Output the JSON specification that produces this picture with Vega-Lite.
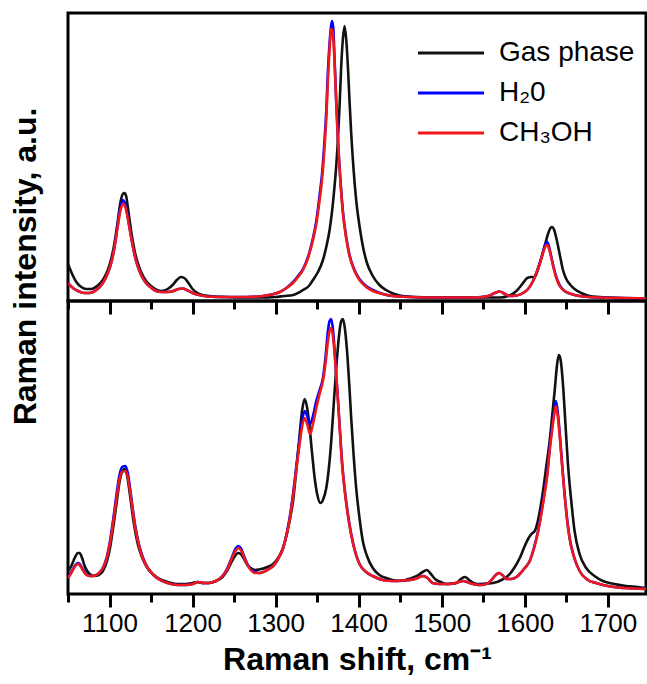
{
"$schema": "https://vega.github.io/schema/vega-lite/v6.json",
"autosize": {"type": "pad"},
"padding": {"left": 7, "top": 11, "right": 0, "bottom": 0},
"background": "white",
"spacing": 0,
"bounds": "flush",
"resolve": {"scale": {"y": "independent"}},
"config": {"view": {"stroke": "black", "strokeWidth": 3}, "font": "Liberation Sans", "axis": {"grid": false}},
"datasets": {
"top": [
{"x":1050,"y":37,"s":"g"},{"x":1055,"y":27,"s":"g"},{"x":1060,"y":19,"s":"g"},{"x":1066,"y":14,"s":"g"},{"x":1072,"y":12,"s":"g"},{"x":1078,"y":12,"s":"g"},{"x":1085,"y":15,"s":"g"},{"x":1092,"y":21,"s":"g"},{"x":1098,"y":31,"s":"g"},{"x":1102,"y":42,"s":"g"},{"x":1106,"y":58,"s":"g"},{"x":1110,"y":80,"s":"g"},{"x":1113,"y":98,"s":"g"},{"x":1116,"y":107,"s":"g"},{"x":1118,"y":108,"s":"g"},{"x":1120,"y":105,"s":"g"},{"x":1123,"y":88,"s":"g"},{"x":1126,"y":70,"s":"g"},{"x":1130,"y":51,"s":"g"},{"x":1134,"y":38,"s":"g"},{"x":1138,"y":29,"s":"g"},{"x":1144,"y":20,"s":"g"},{"x":1150,"y":15,"s":"g"},{"x":1157,"y":11,"s":"g"},{"x":1163,"y":10,"s":"g"},{"x":1170,"y":12,"s":"g"},{"x":1176,"y":16,"s":"g"},{"x":1181,"y":21,"s":"g"},{"x":1186,"y":24,"s":"g"},{"x":1190,"y":23,"s":"g"},{"x":1195,"y":18,"s":"g"},{"x":1200,"y":12,"s":"g"},{"x":1206,"y":8,"s":"g"},{"x":1212,"y":6,"s":"g"},{"x":1220,"y":5,"s":"g"},{"x":1240,"y":4,"s":"g"},{"x":1260,"y":3.5,"s":"g"},{"x":1280,"y":3.5,"s":"g"},{"x":1300,"y":4,"s":"g"},{"x":1310,"y":5,"s":"g"},{"x":1321,"y":6,"s":"g"},{"x":1333,"y":11,"s":"g"},{"x":1340,"y":15,"s":"g"},{"x":1345,"y":21,"s":"g"},{"x":1351,"y":29,"s":"g"},{"x":1357,"y":41,"s":"g"},{"x":1361,"y":54,"s":"g"},{"x":1365,"y":71,"s":"g"},{"x":1368,"y":90,"s":"g"},{"x":1371,"y":115,"s":"g"},{"x":1373,"y":135,"s":"g"},{"x":1375,"y":161,"s":"g"},{"x":1377,"y":195,"s":"g"},{"x":1379,"y":235,"s":"g"},{"x":1381,"y":262,"s":"g"},{"x":1383,"y":275,"s":"g"},{"x":1385,"y":262,"s":"g"},{"x":1387,"y":235,"s":"g"},{"x":1389,"y":200,"s":"g"},{"x":1391,"y":168,"s":"g"},{"x":1394,"y":130,"s":"g"},{"x":1397,"y":101,"s":"g"},{"x":1401,"y":75,"s":"g"},{"x":1405,"y":55,"s":"g"},{"x":1410,"y":38,"s":"g"},{"x":1417,"y":25,"s":"g"},{"x":1425,"y":16,"s":"g"},{"x":1433,"y":11,"s":"g"},{"x":1443,"y":7,"s":"g"},{"x":1453,"y":5,"s":"g"},{"x":1470,"y":4,"s":"g"},{"x":1500,"y":3.5,"s":"g"},{"x":1540,"y":3.5,"s":"g"},{"x":1570,"y":3.5,"s":"g"},{"x":1580,"y":5,"s":"g"},{"x":1590,"y":10,"s":"g"},{"x":1597,"y":17,"s":"g"},{"x":1603,"y":23,"s":"g"},{"x":1608,"y":24,"s":"g"},{"x":1612,"y":24,"s":"g"},{"x":1616,"y":32,"s":"g"},{"x":1620,"y":43,"s":"g"},{"x":1624,"y":55,"s":"g"},{"x":1628,"y":67,"s":"g"},{"x":1631,"y":73,"s":"g"},{"x":1633,"y":74,"s":"g"},{"x":1635,"y":72,"s":"g"},{"x":1638,"y":63,"s":"g"},{"x":1642,"y":47,"s":"g"},{"x":1646,"y":31,"s":"g"},{"x":1650,"y":22,"s":"g"},{"x":1655,"y":16,"s":"g"},{"x":1660,"y":12,"s":"g"},{"x":1668,"y":8,"s":"g"},{"x":1678,"y":5,"s":"g"},{"x":1690,"y":4,"s":"g"},{"x":1710,"y":3,"s":"g"},{"x":1746,"y":2.5,"s":"g"},
{"x":1050,"y":18,"s":"w"},{"x":1056,"y":13,"s":"w"},{"x":1062,"y":10,"s":"w"},{"x":1070,"y":8,"s":"w"},{"x":1076,"y":8,"s":"w"},{"x":1084,"y":11,"s":"w"},{"x":1092,"y":18,"s":"w"},{"x":1098,"y":28,"s":"w"},{"x":1102,"y":38,"s":"w"},{"x":1106,"y":54,"s":"w"},{"x":1110,"y":77,"s":"w"},{"x":1113,"y":93,"s":"w"},{"x":1116,"y":101,"s":"w"},{"x":1118,"y":99,"s":"w"},{"x":1121,"y":89,"s":"w"},{"x":1124,"y":74,"s":"w"},{"x":1128,"y":55,"s":"w"},{"x":1132,"y":40,"s":"w"},{"x":1137,"y":28,"s":"w"},{"x":1143,"y":19,"s":"w"},{"x":1149,"y":14,"s":"w"},{"x":1156,"y":10,"s":"w"},{"x":1163,"y":9,"s":"w"},{"x":1170,"y":9,"s":"w"},{"x":1177,"y":10,"s":"w"},{"x":1183,"y":12,"s":"w"},{"x":1188,"y":12.5,"s":"w"},{"x":1193,"y":11,"s":"w"},{"x":1200,"y":8,"s":"w"},{"x":1208,"y":6,"s":"w"},{"x":1218,"y":4.5,"s":"w"},{"x":1240,"y":4,"s":"w"},{"x":1265,"y":4,"s":"w"},{"x":1285,"y":5,"s":"w"},{"x":1295,"y":6.5,"s":"w"},{"x":1305,"y":9,"s":"w"},{"x":1313,"y":13,"s":"w"},{"x":1321,"y":19,"s":"w"},{"x":1327,"y":25,"s":"w"},{"x":1333,"y":32,"s":"w"},{"x":1339,"y":44,"s":"w"},{"x":1345,"y":63,"s":"w"},{"x":1349,"y":80,"s":"w"},{"x":1353,"y":106,"s":"w"},{"x":1356,"y":128,"s":"w"},{"x":1359,"y":162,"s":"w"},{"x":1361,"y":190,"s":"w"},{"x":1363,"y":230,"s":"w"},{"x":1365,"y":258,"s":"w"},{"x":1367,"y":276,"s":"w"},{"x":1368,"y":280,"s":"w"},{"x":1369.5,"y":272,"s":"w"},{"x":1371,"y":242,"s":"w"},{"x":1373,"y":200,"s":"w"},{"x":1375,"y":163,"s":"w"},{"x":1378,"y":122,"s":"w"},{"x":1381,"y":90,"s":"w"},{"x":1385,"y":64,"s":"w"},{"x":1389,"y":46,"s":"w"},{"x":1395,"y":31,"s":"w"},{"x":1401,"y":22,"s":"w"},{"x":1409,"y":15,"s":"w"},{"x":1417,"y":11,"s":"w"},{"x":1429,"y":7,"s":"w"},{"x":1441,"y":5,"s":"w"},{"x":1460,"y":4,"s":"w"},{"x":1500,"y":3.5,"s":"w"},{"x":1540,"y":3.5,"s":"w"},{"x":1556,"y":5,"s":"w"},{"x":1564,"y":8,"s":"w"},{"x":1570,"y":9.5,"s":"w"},{"x":1576,"y":7,"s":"w"},{"x":1582,"y":5,"s":"w"},{"x":1590,"y":5.5,"s":"w"},{"x":1598,"y":8,"s":"w"},{"x":1604,"y":12,"s":"w"},{"x":1610,"y":20,"s":"w"},{"x":1614,"y":28,"s":"w"},{"x":1618,"y":38,"s":"w"},{"x":1621,"y":46,"s":"w"},{"x":1624,"y":55,"s":"w"},{"x":1627,"y":59,"s":"w"},{"x":1629,"y":55,"s":"w"},{"x":1632,"y":44,"s":"w"},{"x":1635,"y":33,"s":"w"},{"x":1638,"y":24,"s":"w"},{"x":1642,"y":16,"s":"w"},{"x":1648,"y":10,"s":"w"},{"x":1656,"y":7,"s":"w"},{"x":1670,"y":4.5,"s":"w"},{"x":1690,"y":3.5,"s":"w"},{"x":1720,"y":3,"s":"w"},{"x":1746,"y":2.5,"s":"w"},
{"x":1050,"y":18,"s":"m"},{"x":1056,"y":13,"s":"m"},{"x":1062,"y":10,"s":"m"},{"x":1070,"y":8,"s":"m"},{"x":1076,"y":8,"s":"m"},{"x":1084,"y":11,"s":"m"},{"x":1092,"y":18,"s":"m"},{"x":1098,"y":28,"s":"m"},{"x":1102,"y":38,"s":"m"},{"x":1106,"y":54,"s":"m"},{"x":1110,"y":75,"s":"m"},{"x":1113,"y":90,"s":"m"},{"x":1116,"y":97,"s":"m"},{"x":1118,"y":96,"s":"m"},{"x":1121,"y":87,"s":"m"},{"x":1124,"y":73,"s":"m"},{"x":1128,"y":55,"s":"m"},{"x":1132,"y":40,"s":"m"},{"x":1137,"y":28,"s":"m"},{"x":1143,"y":19,"s":"m"},{"x":1149,"y":14,"s":"m"},{"x":1156,"y":10,"s":"m"},{"x":1163,"y":9,"s":"m"},{"x":1170,"y":9,"s":"m"},{"x":1177,"y":10,"s":"m"},{"x":1183,"y":12,"s":"m"},{"x":1188,"y":12.5,"s":"m"},{"x":1193,"y":11,"s":"m"},{"x":1200,"y":8,"s":"m"},{"x":1208,"y":6,"s":"m"},{"x":1218,"y":4.5,"s":"m"},{"x":1240,"y":4,"s":"m"},{"x":1265,"y":4,"s":"m"},{"x":1285,"y":5,"s":"m"},{"x":1295,"y":6.5,"s":"m"},{"x":1305,"y":9,"s":"m"},{"x":1313,"y":13,"s":"m"},{"x":1321,"y":18,"s":"m"},{"x":1327,"y":24,"s":"m"},{"x":1333,"y":31,"s":"m"},{"x":1339,"y":43,"s":"m"},{"x":1345,"y":61,"s":"m"},{"x":1349,"y":77,"s":"m"},{"x":1353,"y":101,"s":"m"},{"x":1356,"y":122,"s":"m"},{"x":1359,"y":155,"s":"m"},{"x":1361,"y":182,"s":"m"},{"x":1363,"y":221,"s":"m"},{"x":1365,"y":252,"s":"m"},{"x":1367,"y":272,"s":"m"},{"x":1368,"y":271,"s":"m"},{"x":1369.5,"y":262,"s":"m"},{"x":1371,"y":238,"s":"m"},{"x":1373,"y":198,"s":"m"},{"x":1375,"y":161,"s":"m"},{"x":1378,"y":120,"s":"m"},{"x":1381,"y":88,"s":"m"},{"x":1385,"y":63,"s":"m"},{"x":1389,"y":45,"s":"m"},{"x":1395,"y":30,"s":"m"},{"x":1401,"y":21,"s":"m"},{"x":1409,"y":14,"s":"m"},{"x":1417,"y":10,"s":"m"},{"x":1429,"y":7,"s":"m"},{"x":1441,"y":5,"s":"m"},{"x":1460,"y":4,"s":"m"},{"x":1500,"y":3.5,"s":"m"},{"x":1540,"y":3.5,"s":"m"},{"x":1556,"y":5,"s":"m"},{"x":1564,"y":8,"s":"m"},{"x":1570,"y":9.5,"s":"m"},{"x":1576,"y":7,"s":"m"},{"x":1582,"y":5,"s":"m"},{"x":1590,"y":5.5,"s":"m"},{"x":1598,"y":8,"s":"m"},{"x":1604,"y":12,"s":"m"},{"x":1610,"y":20,"s":"m"},{"x":1614,"y":28,"s":"m"},{"x":1618,"y":37,"s":"m"},{"x":1621,"y":45,"s":"m"},{"x":1624,"y":53,"s":"m"},{"x":1627,"y":56,"s":"m"},{"x":1629,"y":53,"s":"m"},{"x":1632,"y":43,"s":"m"},{"x":1635,"y":32,"s":"m"},{"x":1638,"y":23,"s":"m"},{"x":1642,"y":15,"s":"m"},{"x":1648,"y":10,"s":"m"},{"x":1656,"y":7,"s":"m"},{"x":1670,"y":4.5,"s":"m"},{"x":1690,"y":3.5,"s":"m"},{"x":1720,"y":3,"s":"m"},{"x":1746,"y":2.5,"s":"m"}
],
"bot": [
{"x":1050,"y":23,"s":"g"},{"x":1054,"y":28,"s":"g"},{"x":1058,"y":36,"s":"g"},{"x":1062,"y":41,"s":"g"},{"x":1064,"y":41,"s":"g"},{"x":1067,"y":36,"s":"g"},{"x":1070,"y":28,"s":"g"},{"x":1074,"y":22,"s":"g"},{"x":1078,"y":19,"s":"g"},{"x":1082,"y":18,"s":"g"},{"x":1087,"y":19,"s":"g"},{"x":1092,"y":23,"s":"g"},{"x":1097,"y":33,"s":"g"},{"x":1101,"y":48,"s":"g"},{"x":1105,"y":70,"s":"g"},{"x":1109,"y":94,"s":"g"},{"x":1112,"y":112,"s":"g"},{"x":1115,"y":122,"s":"g"},{"x":1118,"y":125,"s":"g"},{"x":1121,"y":119,"s":"g"},{"x":1124,"y":103,"s":"g"},{"x":1127,"y":84,"s":"g"},{"x":1130,"y":67,"s":"g"},{"x":1134,"y":50,"s":"g"},{"x":1139,"y":37,"s":"g"},{"x":1145,"y":27,"s":"g"},{"x":1152,"y":20,"s":"g"},{"x":1160,"y":15,"s":"g"},{"x":1170,"y":12,"s":"g"},{"x":1182,"y":10,"s":"g"},{"x":1192,"y":10,"s":"g"},{"x":1200,"y":11,"s":"g"},{"x":1206,"y":12,"s":"g"},{"x":1212,"y":11,"s":"g"},{"x":1220,"y":11,"s":"g"},{"x":1228,"y":13,"s":"g"},{"x":1236,"y":17,"s":"g"},{"x":1242,"y":24,"s":"g"},{"x":1247,"y":32,"s":"g"},{"x":1251,"y":38,"s":"g"},{"x":1255,"y":41,"s":"g"},{"x":1258,"y":40,"s":"g"},{"x":1262,"y":35,"s":"g"},{"x":1266,"y":29,"s":"g"},{"x":1270,"y":26,"s":"g"},{"x":1275,"y":24,"s":"g"},{"x":1280,"y":24.5,"s":"g"},{"x":1290,"y":27,"s":"g"},{"x":1297,"y":30,"s":"g"},{"x":1303,"y":36,"s":"g"},{"x":1309,"y":46,"s":"g"},{"x":1314,"y":62,"s":"g"},{"x":1318,"y":78,"s":"g"},{"x":1321,"y":93,"s":"g"},{"x":1325,"y":125,"s":"g"},{"x":1329,"y":160,"s":"g"},{"x":1332,"y":184,"s":"g"},{"x":1335,"y":195,"s":"g"},{"x":1338,"y":186,"s":"g"},{"x":1341,"y":166,"s":"g"},{"x":1344,"y":140,"s":"g"},{"x":1347,"y":116,"s":"g"},{"x":1350,"y":100,"s":"g"},{"x":1354,"y":91,"s":"g"},{"x":1357,"y":94,"s":"g"},{"x":1361,"y":106,"s":"g"},{"x":1364,"y":125,"s":"g"},{"x":1367,"y":153,"s":"g"},{"x":1370,"y":190,"s":"g"},{"x":1373,"y":226,"s":"g"},{"x":1377,"y":263,"s":"g"},{"x":1379,"y":273,"s":"g"},{"x":1381,"y":275,"s":"g"},{"x":1383,"y":268,"s":"g"},{"x":1386,"y":243,"s":"g"},{"x":1389,"y":205,"s":"g"},{"x":1391,"y":176,"s":"g"},{"x":1394,"y":138,"s":"g"},{"x":1397,"y":106,"s":"g"},{"x":1401,"y":76,"s":"g"},{"x":1405,"y":53,"s":"g"},{"x":1410,"y":38,"s":"g"},{"x":1417,"y":26,"s":"g"},{"x":1425,"y":19,"s":"g"},{"x":1433,"y":16,"s":"g"},{"x":1449,"y":13,"s":"g"},{"x":1460,"y":15,"s":"g"},{"x":1470,"y":18,"s":"g"},{"x":1477,"y":22,"s":"g"},{"x":1482,"y":24,"s":"g"},{"x":1487,"y":20,"s":"g"},{"x":1492,"y":15,"s":"g"},{"x":1499,"y":12,"s":"g"},{"x":1506,"y":10,"s":"g"},{"x":1512,"y":10.5,"s":"g"},{"x":1518,"y":11,"s":"g"},{"x":1523,"y":15,"s":"g"},{"x":1528,"y":17,"s":"g"},{"x":1533,"y":14,"s":"g"},{"x":1538,"y":11,"s":"g"},{"x":1544,"y":10,"s":"g"},{"x":1553,"y":10.5,"s":"g"},{"x":1562,"y":11,"s":"g"},{"x":1572,"y":14,"s":"g"},{"x":1582,"y":20,"s":"g"},{"x":1588,"y":27,"s":"g"},{"x":1594,"y":36,"s":"g"},{"x":1599,"y":46,"s":"g"},{"x":1604,"y":55,"s":"g"},{"x":1608,"y":60,"s":"g"},{"x":1612,"y":63,"s":"g"},{"x":1616,"y":74,"s":"g"},{"x":1619,"y":87,"s":"g"},{"x":1622,"y":103,"s":"g"},{"x":1626,"y":128,"s":"g"},{"x":1630,"y":153,"s":"g"},{"x":1633,"y":178,"s":"g"},{"x":1636,"y":203,"s":"g"},{"x":1639,"y":230,"s":"g"},{"x":1641,"y":239,"s":"g"},{"x":1643,"y":235,"s":"g"},{"x":1646,"y":210,"s":"g"},{"x":1649,"y":170,"s":"g"},{"x":1652,"y":130,"s":"g"},{"x":1656,"y":93,"s":"g"},{"x":1660,"y":63,"s":"g"},{"x":1666,"y":40,"s":"g"},{"x":1674,"y":26,"s":"g"},{"x":1684,"y":18,"s":"g"},{"x":1694,"y":13,"s":"g"},{"x":1708,"y":10,"s":"g"},{"x":1722,"y":8,"s":"g"},{"x":1736,"y":7,"s":"g"},{"x":1746,"y":6,"s":"g"},
{"x":1050,"y":17,"s":"w"},{"x":1054,"y":22,"s":"w"},{"x":1058,"y":28,"s":"w"},{"x":1062,"y":31,"s":"w"},{"x":1064,"y":30,"s":"w"},{"x":1067,"y":26,"s":"w"},{"x":1071,"y":21,"s":"w"},{"x":1076,"y":18,"s":"w"},{"x":1080,"y":18,"s":"w"},{"x":1086,"y":20,"s":"w"},{"x":1092,"y":26,"s":"w"},{"x":1097,"y":38,"s":"w"},{"x":1101,"y":55,"s":"w"},{"x":1105,"y":78,"s":"w"},{"x":1109,"y":103,"s":"w"},{"x":1112,"y":119,"s":"w"},{"x":1115,"y":127,"s":"w"},{"x":1119,"y":128,"s":"w"},{"x":1122,"y":121,"s":"w"},{"x":1125,"y":104,"s":"w"},{"x":1128,"y":85,"s":"w"},{"x":1131,"y":68,"s":"w"},{"x":1135,"y":51,"s":"w"},{"x":1140,"y":37,"s":"w"},{"x":1146,"y":26,"s":"w"},{"x":1153,"y":19,"s":"w"},{"x":1161,"y":14,"s":"w"},{"x":1170,"y":11,"s":"w"},{"x":1182,"y":9,"s":"w"},{"x":1192,"y":9,"s":"w"},{"x":1200,"y":10,"s":"w"},{"x":1207,"y":12,"s":"w"},{"x":1213,"y":11,"s":"w"},{"x":1220,"y":11,"s":"w"},{"x":1228,"y":13,"s":"w"},{"x":1236,"y":18,"s":"w"},{"x":1242,"y":26,"s":"w"},{"x":1247,"y":36,"s":"w"},{"x":1251,"y":44,"s":"w"},{"x":1255,"y":48,"s":"w"},{"x":1258,"y":46,"s":"w"},{"x":1262,"y":38,"s":"w"},{"x":1266,"y":30,"s":"w"},{"x":1270,"y":25,"s":"w"},{"x":1275,"y":22,"s":"w"},{"x":1281,"y":21,"s":"w"},{"x":1290,"y":24,"s":"w"},{"x":1297,"y":28,"s":"w"},{"x":1303,"y":35,"s":"w"},{"x":1309,"y":46,"s":"w"},{"x":1314,"y":63,"s":"w"},{"x":1318,"y":82,"s":"w"},{"x":1321,"y":100,"s":"w"},{"x":1325,"y":128,"s":"w"},{"x":1329,"y":155,"s":"w"},{"x":1332,"y":174,"s":"w"},{"x":1335,"y":183,"s":"w"},{"x":1338,"y":178,"s":"w"},{"x":1341.5,"y":170,"s":"w"},{"x":1345,"y":178,"s":"w"},{"x":1349,"y":193,"s":"w"},{"x":1353,"y":204,"s":"w"},{"x":1357,"y":216,"s":"w"},{"x":1360,"y":236,"s":"w"},{"x":1363,"y":263,"s":"w"},{"x":1365,"y":273,"s":"w"},{"x":1367,"y":275,"s":"w"},{"x":1369,"y":265,"s":"w"},{"x":1372,"y":232,"s":"w"},{"x":1375,"y":195,"s":"w"},{"x":1377,"y":170,"s":"w"},{"x":1380,"y":132,"s":"w"},{"x":1383,"y":106,"s":"w"},{"x":1387,"y":80,"s":"w"},{"x":1391,"y":60,"s":"w"},{"x":1396,"y":42,"s":"w"},{"x":1401,"y":30,"s":"w"},{"x":1409,"y":22,"s":"w"},{"x":1417,"y":18,"s":"w"},{"x":1429,"y":14,"s":"w"},{"x":1441,"y":13,"s":"w"},{"x":1452,"y":13.5,"s":"w"},{"x":1462,"y":14,"s":"w"},{"x":1471,"y":16,"s":"w"},{"x":1477,"y":18,"s":"w"},{"x":1483,"y":16,"s":"w"},{"x":1489,"y":11,"s":"w"},{"x":1497,"y":10,"s":"w"},{"x":1506,"y":10,"s":"w"},{"x":1514,"y":10.5,"s":"w"},{"x":1520,"y":12,"s":"w"},{"x":1526,"y":13,"s":"w"},{"x":1532,"y":11.5,"s":"w"},{"x":1540,"y":9.5,"s":"w"},{"x":1548,"y":9,"s":"w"},{"x":1556,"y":11,"s":"w"},{"x":1561,"y":15,"s":"w"},{"x":1565,"y":19,"s":"w"},{"x":1569,"y":21,"s":"w"},{"x":1573,"y":19,"s":"w"},{"x":1578,"y":15,"s":"w"},{"x":1584,"y":15,"s":"w"},{"x":1590,"y":17,"s":"w"},{"x":1594,"y":20,"s":"w"},{"x":1600,"y":26,"s":"w"},{"x":1606,"y":33,"s":"w"},{"x":1611,"y":46,"s":"w"},{"x":1616,"y":63,"s":"w"},{"x":1620,"y":82,"s":"w"},{"x":1624,"y":103,"s":"w"},{"x":1627,"y":120,"s":"w"},{"x":1630,"y":146,"s":"w"},{"x":1633,"y":168,"s":"w"},{"x":1635,"y":180,"s":"w"},{"x":1637.5,"y":193,"s":"w"},{"x":1640,"y":180,"s":"w"},{"x":1642,"y":162,"s":"w"},{"x":1645,"y":130,"s":"w"},{"x":1648,"y":100,"s":"w"},{"x":1651,"y":75,"s":"w"},{"x":1654,"y":56,"s":"w"},{"x":1659,"y":38,"s":"w"},{"x":1666,"y":23,"s":"w"},{"x":1676,"y":14,"s":"w"},{"x":1686,"y":11,"s":"w"},{"x":1700,"y":8,"s":"w"},{"x":1720,"y":6,"s":"w"},{"x":1746,"y":5,"s":"w"},
{"x":1050,"y":16,"s":"m"},{"x":1054,"y":21,"s":"m"},{"x":1058,"y":27,"s":"m"},{"x":1062,"y":30,"s":"m"},{"x":1064,"y":29,"s":"m"},{"x":1067,"y":25,"s":"m"},{"x":1071,"y":20,"s":"m"},{"x":1076,"y":18,"s":"m"},{"x":1080,"y":18,"s":"m"},{"x":1086,"y":20,"s":"m"},{"x":1092,"y":26,"s":"m"},{"x":1097,"y":37,"s":"m"},{"x":1101,"y":53,"s":"m"},{"x":1105,"y":75,"s":"m"},{"x":1109,"y":99,"s":"m"},{"x":1112,"y":115,"s":"m"},{"x":1115,"y":122,"s":"m"},{"x":1119,"y":123,"s":"m"},{"x":1122,"y":117,"s":"m"},{"x":1125,"y":101,"s":"m"},{"x":1128,"y":83,"s":"m"},{"x":1131,"y":66,"s":"m"},{"x":1135,"y":50,"s":"m"},{"x":1140,"y":36,"s":"m"},{"x":1146,"y":26,"s":"m"},{"x":1153,"y":19,"s":"m"},{"x":1161,"y":14,"s":"m"},{"x":1170,"y":11,"s":"m"},{"x":1182,"y":9,"s":"m"},{"x":1192,"y":9,"s":"m"},{"x":1200,"y":10,"s":"m"},{"x":1207,"y":12,"s":"m"},{"x":1213,"y":11,"s":"m"},{"x":1220,"y":11,"s":"m"},{"x":1228,"y":13,"s":"m"},{"x":1236,"y":18,"s":"m"},{"x":1242,"y":25,"s":"m"},{"x":1247,"y":35,"s":"m"},{"x":1251,"y":42,"s":"m"},{"x":1255,"y":46,"s":"m"},{"x":1258,"y":44,"s":"m"},{"x":1262,"y":37,"s":"m"},{"x":1266,"y":29,"s":"m"},{"x":1270,"y":24,"s":"m"},{"x":1275,"y":21,"s":"m"},{"x":1281,"y":21,"s":"m"},{"x":1290,"y":24,"s":"m"},{"x":1297,"y":28,"s":"m"},{"x":1303,"y":35,"s":"m"},{"x":1309,"y":46,"s":"m"},{"x":1314,"y":62,"s":"m"},{"x":1318,"y":80,"s":"m"},{"x":1321,"y":98,"s":"m"},{"x":1325,"y":125,"s":"m"},{"x":1329,"y":151,"s":"m"},{"x":1332,"y":168,"s":"m"},{"x":1335,"y":176,"s":"m"},{"x":1338,"y":170,"s":"m"},{"x":1341.5,"y":160,"s":"m"},{"x":1345,"y":170,"s":"m"},{"x":1349,"y":186,"s":"m"},{"x":1353,"y":200,"s":"m"},{"x":1357,"y":213,"s":"m"},{"x":1360,"y":230,"s":"m"},{"x":1363,"y":253,"s":"m"},{"x":1365,"y":263,"s":"m"},{"x":1367,"y":266,"s":"m"},{"x":1369,"y":258,"s":"m"},{"x":1372,"y":230,"s":"m"},{"x":1375,"y":194,"s":"m"},{"x":1377,"y":168,"s":"m"},{"x":1380,"y":130,"s":"m"},{"x":1383,"y":105,"s":"m"},{"x":1387,"y":79,"s":"m"},{"x":1391,"y":59,"s":"m"},{"x":1396,"y":41,"s":"m"},{"x":1401,"y":30,"s":"m"},{"x":1409,"y":22,"s":"m"},{"x":1417,"y":18,"s":"m"},{"x":1429,"y":14,"s":"m"},{"x":1441,"y":13,"s":"m"},{"x":1452,"y":13.5,"s":"m"},{"x":1462,"y":14,"s":"m"},{"x":1471,"y":16,"s":"m"},{"x":1477,"y":18,"s":"m"},{"x":1483,"y":16,"s":"m"},{"x":1489,"y":11,"s":"m"},{"x":1497,"y":10,"s":"m"},{"x":1506,"y":10,"s":"m"},{"x":1514,"y":10.5,"s":"m"},{"x":1520,"y":12,"s":"m"},{"x":1526,"y":13,"s":"m"},{"x":1532,"y":11.5,"s":"m"},{"x":1540,"y":9.5,"s":"m"},{"x":1548,"y":9,"s":"m"},{"x":1556,"y":11,"s":"m"},{"x":1561,"y":15,"s":"m"},{"x":1565,"y":19,"s":"m"},{"x":1569,"y":21,"s":"m"},{"x":1573,"y":19,"s":"m"},{"x":1578,"y":15,"s":"m"},{"x":1584,"y":15,"s":"m"},{"x":1590,"y":17,"s":"m"},{"x":1594,"y":20,"s":"m"},{"x":1600,"y":26,"s":"m"},{"x":1606,"y":33,"s":"m"},{"x":1611,"y":45,"s":"m"},{"x":1616,"y":62,"s":"m"},{"x":1620,"y":80,"s":"m"},{"x":1624,"y":101,"s":"m"},{"x":1627,"y":118,"s":"m"},{"x":1630,"y":143,"s":"m"},{"x":1633,"y":164,"s":"m"},{"x":1635,"y":177,"s":"m"},{"x":1637.5,"y":188,"s":"m"},{"x":1640,"y":176,"s":"m"},{"x":1642,"y":159,"s":"m"},{"x":1645,"y":128,"s":"m"},{"x":1648,"y":99,"s":"m"},{"x":1651,"y":74,"s":"m"},{"x":1654,"y":56,"s":"m"},{"x":1659,"y":38,"s":"m"},{"x":1666,"y":23,"s":"m"},{"x":1676,"y":14,"s":"m"},{"x":1686,"y":11,"s":"m"},{"x":1700,"y":8,"s":"m"},{"x":1720,"y":6,"s":"m"},{"x":1746,"y":5,"s":"m"}
]
},
"vconcat": [
{
"width": 578, "height": 288,
"data": {"name": "top"},
"mark": {"type": "line", "strokeWidth": 2.6, "interpolate": "monotone", "clip": true},
"encoding": {
"x": {"field": "x", "type": "quantitative", "scale": {"domain": [1050, 1746], "nice": false, "zero": false},
 "axis": {"orient": "bottom", "values": [1050,1100,1150,1200,1250,1300,1350,1400,1450,1500,1550,1600,1650,1700], "labels": false, "domain": false, "title": null, "tickColor": "black", "tickWidth": 3, "tickSize": {"condition": {"test": "datum.value % 100 === 0", "value": 13}, "value": 8}}},
"y": {"field": "y", "type": "quantitative", "scale": {"domain": [0, 288], "nice": false, "zero": false},
 "axis": {"title": "Raman intensity, a.u.", "ticks": false, "labels": false, "domain": false, "titleFont": "Liberation Sans", "titleFontSize": 32, "titleFontWeight": "bold", "titleColor": "black", "titleAngle": 270, "titleX": -33, "titleY": 253, "titleAlign": "center", "titleBaseline": "alphabetic"}},
"color": {"field": "s", "type": "nominal", "scale": {"domain": ["g", "w", "m"], "range": ["#111111", "#0000ff", "#f01818"]},
 "legend": {"orient": "none", "legendX": 369, "legendY": 26, "title": null, "padding": 0, "symbolType": "M-3,0H3", "symbolSize": 484, "symbolStrokeWidth": 3, "labelOffset": 34, "rowPadding": 12, "labelFont": "Liberation Sans", "labelFontSize": 28, "labelColor": "black", "labelLimit": 300, "labelExpr": "datum.label == 'g' ? 'Gas phase' : datum.label == 'w' ? 'H₂0' : 'CH₃OH'"}}
}
},
{
"width": 578, "height": 293,
"data": {"name": "bot"},
"mark": {"type": "line", "strokeWidth": 2.6, "interpolate": "monotone", "clip": true},
"encoding": {
"x": {"field": "x", "type": "quantitative", "scale": {"domain": [1050, 1746], "nice": false, "zero": false},
 "axis": {"orient": "bottom", "values": [1050,1100,1150,1200,1250,1300,1350,1400,1450,1500,1550,1600,1650,1700], "format": "d", "domain": false, "tickColor": "black", "tickWidth": 3, "tickSize": {"condition": {"test": "datum.value % 100 === 0", "value": 13}, "value": 8}, "labelExpr": "datum.value % 100 === 0 ? datum.label : ''", "labelFont": "Liberation Sans", "labelFontSize": 26, "labelColor": "black", "labelPadding": 3, "labelFlush": false, "labelOverlap": false, "title": "Raman shift, cm⁻¹", "titleFont": "Liberation Sans", "titleFontSize": 32, "titleFontWeight": "bold", "titleColor": "black", "titlePadding": 8}},
"y": {"field": "y", "type": "quantitative", "scale": {"domain": [0, 293], "nice": false, "zero": false}, "axis": null},
"color": {"field": "s", "type": "nominal", "scale": {"domain": ["g", "w", "m"], "range": ["#111111", "#0000ff", "#f01818"]},
 "legend": {"orient": "none", "legendX": 369, "legendY": 26, "title": null, "padding": 0, "symbolType": "M-3,0H3", "symbolSize": 484, "symbolStrokeWidth": 3, "labelOffset": 34, "rowPadding": 12, "labelFont": "Liberation Sans", "labelFontSize": 28, "labelColor": "black", "labelLimit": 300, "labelExpr": "datum.label == 'g' ? 'Gas phase' : datum.label == 'w' ? 'H₂0' : 'CH₃OH'"}}
}
}
]
}
